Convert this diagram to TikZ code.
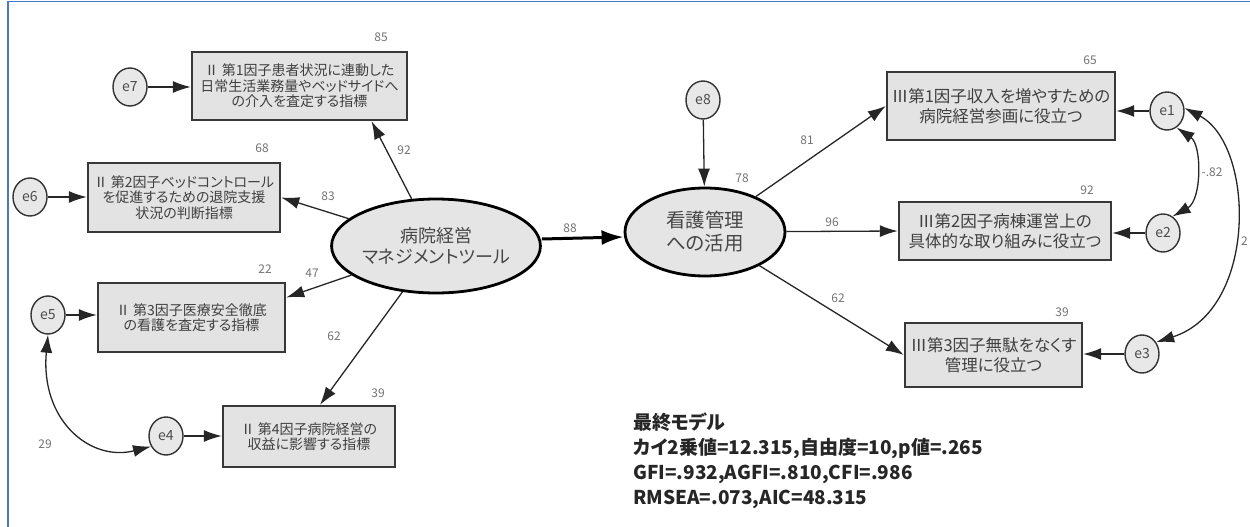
\documentclass[tikz,border=0pt]{standalone}
\usepackage{fontspec}
\setmainfont[RawFeature=+palt]{Noto Sans CJK JP}
\usetikzlibrary{shapes.geometric,arrows.meta,calc}
\definecolor{frameblue}{HTML}{4A78C8}
\begin{document}
\begin{tikzpicture}[x=1pt,y=-1pt,
  lbox/.style={rectangle, draw=black!78, line width=2.4pt, fill=black!11, text=black!75,
    font=\fontsize{14}{15.5}\selectfont, align=center, inner sep=0pt},
  rbox/.style={lbox, font=\fontsize{16.5}{19.5}\selectfont},
  latent/.style={ellipse, draw=black, line width=2.8pt, fill=black!10, text=black!72,
    align=center, inner sep=0pt},
  err/.style={ellipse, draw=black!80, line width=1.4pt, fill=black!9, text=black!70,
    minimum width=34pt, minimum height=38pt, inner sep=0pt, font=\fontsize{14}{14}\selectfont},
  pth/.style={draw=black!85, line width=1.3pt, -{Latex[length=18pt,width=12pt]}},
  cov/.style={draw=black!85, line width=1.3pt, {Latex[length=18pt,width=12pt]}-{Latex[length=18pt,width=12pt]}},
  num/.style={text=black!55, font=\fontsize{12}{12}\selectfont, inner sep=0pt}]
\useasboundingbox (0,0) rectangle (1250,527);
\draw[frameblue, line width=1.5pt] (8,527) -- (8,1.5) -- (1250,1.5);

% latent variables
\node[latent, minimum width=188pt, minimum height=94pt, font=\fontsize{18}{21}\selectfont] (E1) at (436,246) {病院経営\\マネジメントツール};
\node[latent, minimum width=160pt, minimum height=88pt, font=\fontsize{19.5}{23}\selectfont] (E2) at (705,232) {看護管理\\への活用};

% left indicators
\node[lbox, minimum width=215pt, minimum height=68pt] (b1) at (299.5,86) {Ⅱ 第1因子患者状況に連動した\\日常生活業務量やベッドサイドへ\\の介入を査定する指標};
\node[lbox, minimum width=192pt, minimum height=69pt] (b2) at (184,197.5) {Ⅱ 第2因子ベッドコントロール\\を促進するための退院支援\\状況の判断指標};
\node[lbox, minimum width=187pt, minimum height=69pt] (b3) at (191.5,317.5) {Ⅱ 第3因子医療安全徹底\\の看護を査定する指標};
\node[lbox, minimum width=172pt, minimum height=61pt] (b4) at (309,436.5) {Ⅱ 第4因子病院経営の\\収益に影響する指標};

% right indicators
\node[rbox, minimum width=228pt, minimum height=68pt] (r1) at (1001,106) {Ⅲ第1因子収入を増やすための\\病院経営参画に役立つ};
\node[rbox, minimum width=212pt, minimum height=58pt] (r2) at (1005,231) {Ⅲ第2因子病棟運営上の\\具体的な取り組みに役立つ};
\node[rbox, minimum width=177pt, minimum height=64pt] (r3) at (993.5,355) {Ⅲ第3因子無駄をなくす\\管理に役立つ};

% error terms
\node[err] (e7) at (130,87) {e7};
\node[err] (e6) at (30,197) {e6};
\node[err] (e5) at (48,315) {e5};
\node[err] (e4) at (166,436) {e4};
\node[err] (e8) at (703,100) {e8};
\node[err] (e1) at (1167,111) {e1};
\node[err] (e2) at (1163,233) {e2};
\node[err] (e3) at (1142,354) {e3};

% error paths
\draw[pth] (e7) -- (e7 -| b1.west);
\draw[pth] (e6) -- (e6 -| b2.west);
\draw[pth] (e5) -- (e5 -| b3.west);
\draw[pth] (e4) -- (e4 -| b4.west);
\draw[pth] (e8) -- (E2);
\draw[pth] (e1) -- (e1 -| r1.east);
\draw[pth] (e2) -- (e2 -| r2.east);
\draw[pth] (e3) -- (e3 -| r3.east);

% loadings
\draw[pth] (E1) -- ([xshift=72pt]b1.south);
\draw[pth] (E1) -- (b2.east);
\draw[pth] (E1) -- ([yshift=20pt]b3.east);
\draw[pth] (E1) -- ([xshift=11pt]b4.north);
\draw[draw=black, line width=3pt, -{Latex[length=22pt,width=15pt]}] ([yshift=7pt]E1.east) -- ([yshift=-5pt]E2.west);
\draw[pth] (E2) -- (r1.west);
\draw[pth] (E2) -- (r2.west);
\draw[pth] (E2) -- (r3.west);

% covariances
\draw[cov] (e5.south) .. controls (40,420) and (90,462) .. (e4.215);
\draw[cov] (e1.-60) .. controls (1202,145) and (1202,200) .. (e2.60);
\draw[cov] (e1.10) .. controls (1255,145) and (1258,310) .. (e3.40);

% numbers
\node[num] (n85) at (381,37) {85};
\node[num] (n68) at (262,148) {68};
\node[num] (n22) at (265,269) {22};
\node[num] (n39a) at (378,393) {39};
\node[num] (n65) at (1090,60) {65};
\node[num] (n92a) at (1087,190) {92};
\node[num] (n39b) at (1062,312) {39};
\node[num] (n78) at (742,178) {78};
\node[num] (n92) at (404,150) {92};
\node[num] (n83) at (328,196) {83};
\node[num] (n47) at (312,273) {47};
\node[num] (n62a) at (334,336) {62};
\node[num] (n88) at (570,228) {88};
\node[num] (n81) at (807,140) {81};
\node[num] (n96) at (832,222) {96};
\node[num] (n62b) at (838,298) {62};
\node[num] (n29) at (45,444) {29};
\node[num] (n82) at (1212,172) {-.82};
\node[num, anchor=west] (n2) at (1241,241) {2};

% fit statistics
\node[anchor=north west, align=left, font=\fontsize{19}{25}\selectfont\bfseries, text=black!85, inner sep=0pt] (fit) at (633,413) {最終モデル\\カイ2乗値=12.315,自由度=10,p値=.265\\GFI=.932,AGFI=.810,CFI=.986\\RMSEA=.073,AIC=48.315};
\end{tikzpicture}
\end{document}
